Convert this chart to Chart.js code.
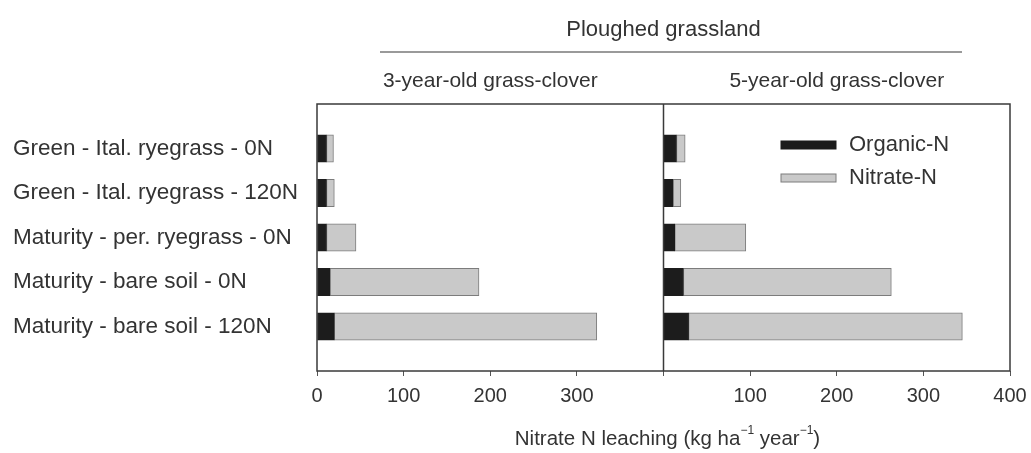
<!DOCTYPE html>
<html>
<head>
<meta charset="utf-8">
<script src="https://cdn.jsdelivr.net/npm/chart.js@4.4.1/dist/chart.umd.min.js"></script>
<style>
  body { margin: 0; background: #fff; }
  canvas { display: block; }
</style>
</head>
<body>
<canvas id="leaching" width="1031" height="453"></canvas>
<script>
// Data
const categories = [
  'Green - Ital. ryegrass - 0N',
  'Green - Ital. ryegrass - 120N',
  'Maturity - per. ryegrass - 0N',
  'Maturity - bare soil - 0N',
  'Maturity - bare soil - 120N'
];
const organic3yr = [11, 11, 11, 15, 20];
const nitrate3yr = [8, 9, 34, 172, 303];
const organic5yr = [15, 11, 13, 23, 29];
const nitrate5yr = [10, 9, 82, 240, 316];
const xTicks = [0, 100, 200, 300, 400];
const seriesNames = ['Organic-N', 'Nitrate-N'];
const panelNames = ['3-year-old grass-clover', '5-year-old grass-clover'];

const textColor = '#333';
const font = 'Liberation Sans, Arial, sans-serif';

// empty slot above and below so the rows sit inside the frame
const pad = arr => [null, ...arr, null];

const barStyle = { borderWidth: 1, borderSkipped: false, barThickness: 27.5, grouped: false };
const darkFill = '#1c1c1c';
const greyFill = '#c9c9c9';

const decor = {
  id: 'decor',
  afterDraw(chart) {
    const { ctx, chartArea: a, scales } = chart;
    const x1 = scales.x1, x2 = scales.x2;
    ctx.save();

    // frame + panel divider
    ctx.strokeStyle = '#3a3a3a';
    ctx.lineWidth = 1.5;
    ctx.strokeRect(a.left, a.top, a.right - a.left, a.bottom - a.top);
    ctx.beginPath();
    ctx.moveTo(x2.left, a.top);
    ctx.lineTo(x2.left, a.bottom);
    ctx.stroke();

    // headers
    ctx.fillStyle = textColor;
    ctx.textAlign = 'center';
    ctx.textBaseline = 'middle';
    ctx.font = '22px ' + font;
    ctx.fillText('Ploughed grassland', (a.left + a.right) / 2, 30);
    ctx.strokeStyle = '#9a9a9a';
    ctx.lineWidth = 2;
    ctx.beginPath();
    ctx.moveTo(a.left + 63, 52);
    ctx.lineTo(a.right - 48, 52);
    ctx.stroke();
    ctx.font = '21px ' + font;
    ctx.fillText(panelNames[0], (x1.left + x1.right) / 2, 81);
    ctx.fillText(panelNames[1], (x2.left + x2.right) / 2, 81);

    // legend
    const ds = chart.data.datasets;
    const lx = a.right - 229;
    [0, 1].forEach(i => {
      const y = a.top + 41 + i * 33;
      ctx.fillStyle = ds[i].backgroundColor;
      ctx.fillRect(lx, y - 4, 55, 8);
      ctx.strokeStyle = ds[i].borderColor;
      ctx.lineWidth = 1;
      ctx.strokeRect(lx, y - 4, 55, 8);
      ctx.fillStyle = textColor;
      ctx.textAlign = 'left';
      ctx.font = '22px ' + font;
      ctx.fillText(ds[i].label, lx + 68, y);
    });

    // x axis title with superscripts
    const parts = [
      ['Nitrate N leaching (kg ha', false],
      ['\u22121', true],
      [' year', false],
      ['\u22121', true],
      [')', false]
    ];
    const big = '20.5px ' + font, small = '12px ' + font;
    let w = 0;
    parts.forEach(([t, sup]) => { ctx.font = sup ? small : big; w += ctx.measureText(t).width; });
    let tx = (a.left + a.right) / 2 - w / 2 + 4;
    const ty = a.bottom + 68;
    ctx.textAlign = 'left';
    ctx.fillStyle = textColor;
    parts.forEach(([t, sup]) => {
      ctx.font = sup ? small : big;
      ctx.fillText(t, tx, sup ? ty - 8 : ty);
      tx += ctx.measureText(t).width;
    });
    ctx.restore();
  }
};

const xScale = (hide) => ({
  type: 'linear',
  position: 'bottom',
  stack: 'panels',
  stackWeight: 1,
  stacked: true,
  min: xTicks[0],
  max: xTicks[xTicks.length - 1],
  afterFit: s => { s.height = 82; s.paddingLeft = 0; s.paddingRight = 0; },
  afterBuildTicks: s => { s.ticks = xTicks.map(v => ({ value: v })); },
  border: { display: false },
  grid: { display: true, drawOnChartArea: false, drawTicks: true, tickLength: 5, color: '#555' },
  ticks: {
    padding: 8,
    maxRotation: 0,
    autoSkip: false,
    color: textColor,
    font: { family: font, size: 20 },
    callback: v => (v === hide ? '' : v)
  }
});

new Chart(document.getElementById('leaching'), {
  type: 'bar',
  data: {
    labels: ['', ...categories, ''],
    datasets: [
      { label: seriesNames[0], data: pad(organic3yr), xAxisID: 'x1', backgroundColor: darkFill, borderColor: darkFill, ...barStyle },
      { label: seriesNames[1], data: pad(nitrate3yr), xAxisID: 'x1', backgroundColor: greyFill, borderColor: '#7c7c7c', ...barStyle },
      { label: seriesNames[0], data: pad(organic5yr), xAxisID: 'x2', backgroundColor: darkFill, borderColor: darkFill, ...barStyle },
      { label: seriesNames[1], data: pad(nitrate5yr), xAxisID: 'x2', backgroundColor: greyFill, borderColor: '#7c7c7c', ...barStyle }
    ]
  },
  options: {
    indexAxis: 'y',
    responsive: false,
    animation: false,
    layout: { padding: { top: 104, left: 13, right: 21, bottom: 0 } },
    plugins: { legend: { display: false }, tooltip: { enabled: false } },
    scales: {
      y: {
        type: 'category',
        offset: false,
        stacked: true,
        afterFit: s => { s.width = 304; },
        border: { display: false },
        grid: { display: false },
        ticks: {
          crossAlign: 'far',
          autoSkip: false,
          color: textColor,
          font: { family: font, size: 22.5 }
        }
      },
      x1: xScale(400),
      x2: xScale(0)
    }
  },
  plugins: [decor]
});
</script>
</body>
</html>
